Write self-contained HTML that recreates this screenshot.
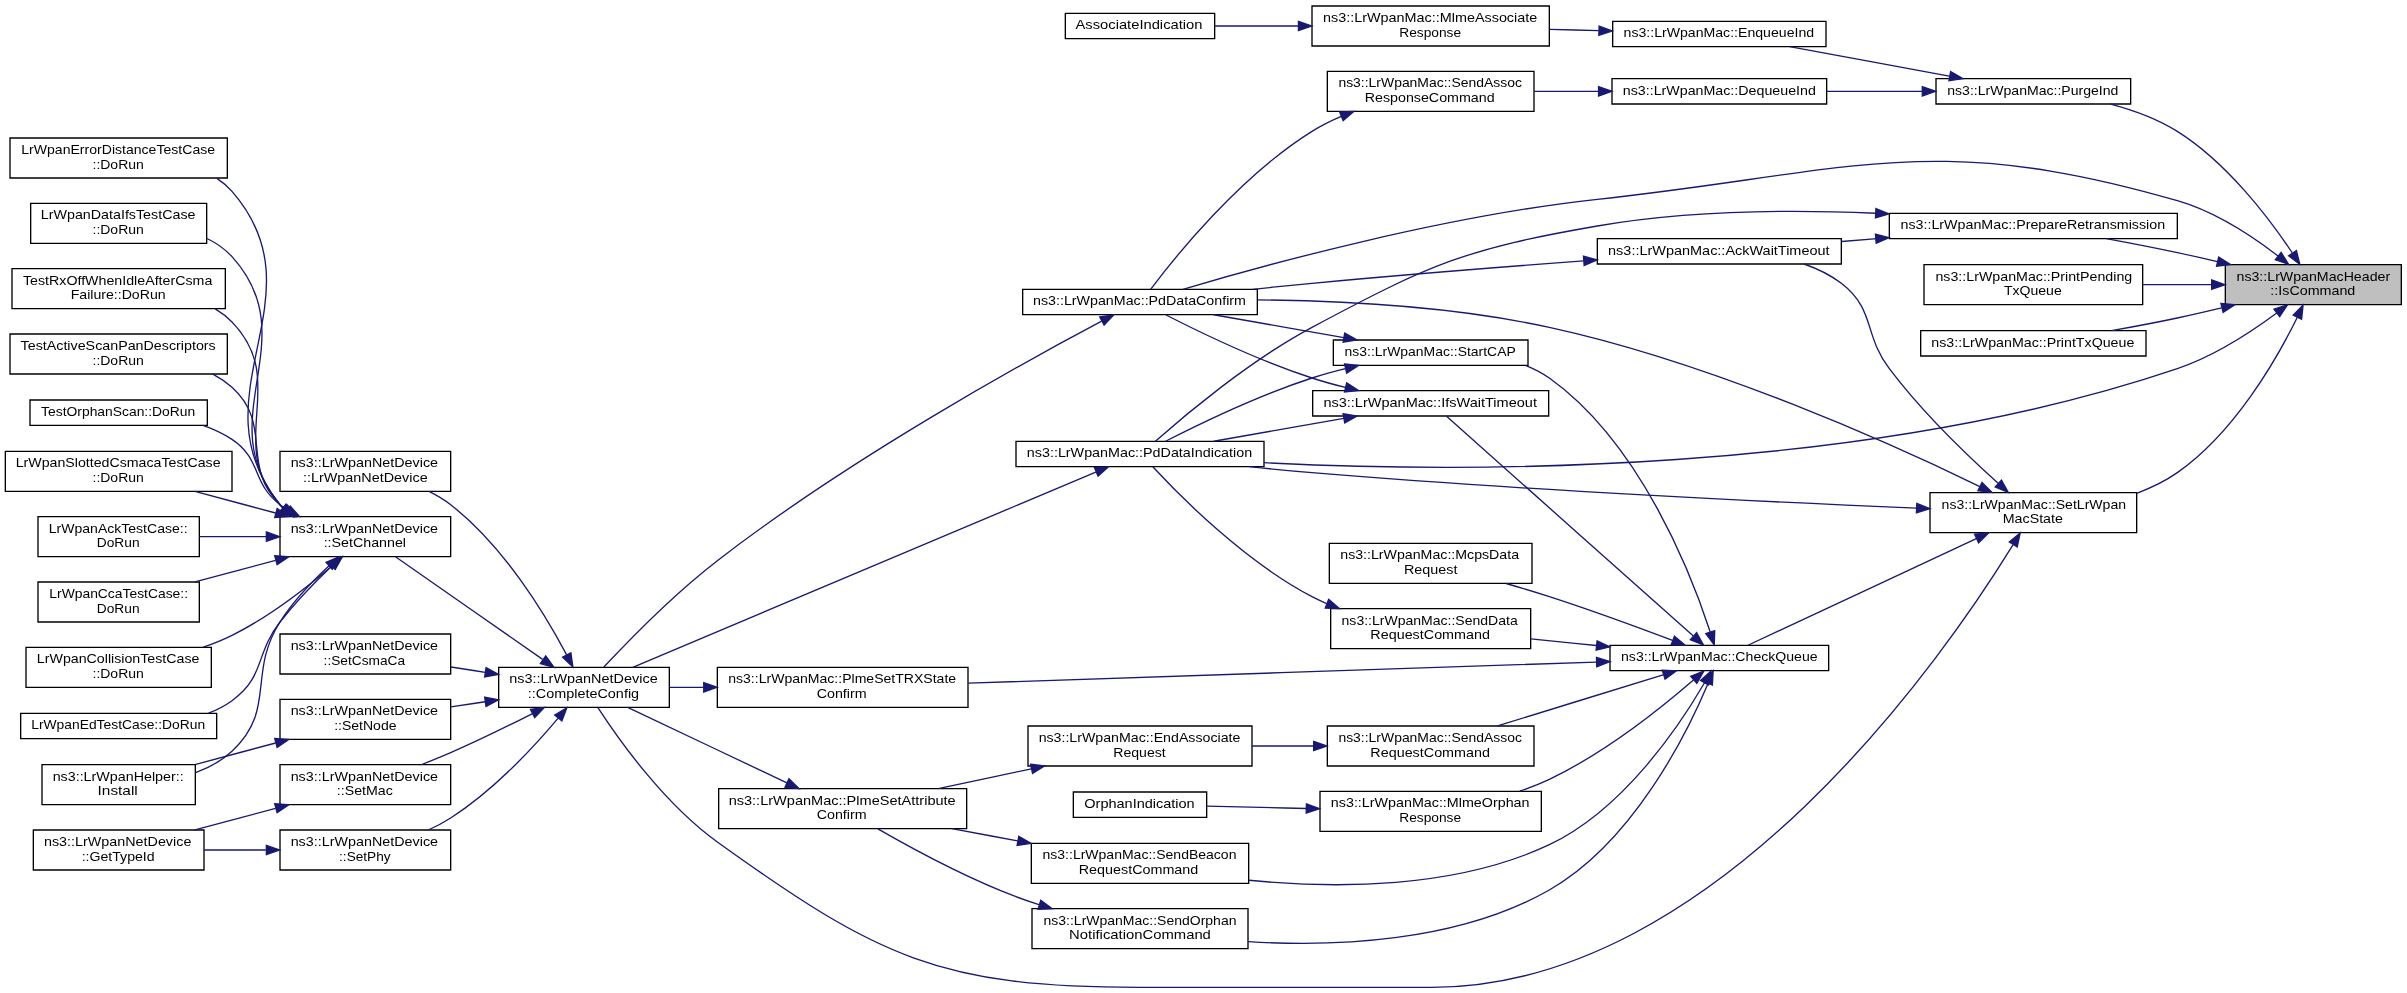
<!DOCTYPE html>
<html><head><meta charset="utf-8"><title>ns3::LrWpanMacHeader::IsCommand</title>
<style>
html,body{margin:0;padding:0;background:#fff;width:2407px;height:993px;overflow:hidden}
svg{display:block;will-change:transform}
text{font-family:"Liberation Sans",sans-serif;font-size:10.0px;fill:#000;}
</style></head><body>
<svg width="2407" height="993" viewBox="0 0 1805.25 744.75">
<g text-anchor="middle" transform="scale(1 1) rotate(0) translate(4 740.5)">
<polygon fill="white" stroke="none" points="-4,4 -4,-740.5 1801,-740.5 1801,4 -4,4"/>
<g>
<polygon fill="#bfbfbf" stroke="black" points="1665,-512 1665,-542 1797,-542 1797,-512 1665,-512"/>
<text x="1731.00" y="-530.00" textLength="115.21" lengthAdjust="spacingAndGlyphs">ns3::LrWpanMacHeader</text>
<text x="1730.62" y="-519.00" textLength="63.73" lengthAdjust="spacingAndGlyphs">::IsCommand</text>
</g>
<g>
<polygon fill="white" stroke="black" points="763,-504.5 763,-523.5 939,-523.5 939,-504.5 763,-504.5"/>
<text x="850.62" y="-511.50" textLength="159.66" lengthAdjust="spacingAndGlyphs">ns3::LrWpanMac::PdDataConfirm</text>
</g>
<g>
<path fill="none" stroke="midnightblue" d="M1704.52,-548.52C1685.18,-563.38 1657.19,-581.87 1629,-590 1443.24,-643.58 1386.21,-611.86 1194,-591 1077.53,-578.36 942.84,-541.19 883.19,-523.53"/>
<polygon fill="midnightblue" stroke="midnightblue" points="1706.83,-551.15 1712.51,-542.21 1702.49,-545.66 1706.83,-551.15"/>
</g>
<g>
<polygon fill="white" stroke="black" points="758,-390.5 758,-409.5 944,-409.5 944,-390.5 758,-390.5"/>
<text x="850.62" y="-397.50" textLength="168.95" lengthAdjust="spacingAndGlyphs">ns3::LrWpanMac::PdDataIndication</text>
</g>
<g>
<path fill="none" stroke="midnightblue" d="M1703.56,-505.71C1684.14,-491.31 1656.45,-473.3 1629,-464 1392.15,-383.8 1092.48,-386.03 944.02,-393.48"/>
<polygon fill="midnightblue" stroke="midnightblue" points="1701.53,-508.56 1711.62,-511.82 1705.77,-502.99 1701.53,-508.56"/>
</g>
<g>
<polygon fill="white" stroke="black" points="1413,-561.5 1413,-580.5 1629,-580.5 1629,-561.5 1413,-561.5"/>
<text x="1520.62" y="-568.50" textLength="198.48" lengthAdjust="spacingAndGlyphs">ns3::LrWpanMac::PrepareRetransmission</text>
</g>
<g>
<path fill="none" stroke="midnightblue" d="M1658.98,-544.33C1648.94,-546.65 1638.72,-548.94 1629,-551 1611.71,-554.67 1592.78,-558.32 1575.71,-561.49"/>
<polygon fill="midnightblue" stroke="midnightblue" points="1660.01,-547.69 1668.95,-542.01 1658.42,-540.87 1660.01,-547.69"/>
</g>
<g>
<polygon fill="white" stroke="black" points="1439,-512 1439,-542 1603,-542 1603,-512 1439,-512"/>
<text x="1521.38" y="-530.00" textLength="147.60" lengthAdjust="spacingAndGlyphs">ns3::LrWpanMac::PrintPending</text>
<text x="1520.62" y="-519.00" textLength="43.38" lengthAdjust="spacingAndGlyphs">TxQueue</text>
</g>
<g>
<path fill="none" stroke="midnightblue" d="M1654.51,-527C1637.81,-527 1620.04,-527 1603.12,-527"/>
<polygon fill="midnightblue" stroke="midnightblue" points="1654.76,-530.5 1664.76,-527 1654.76,-523.5 1654.76,-530.5"/>
</g>
<g>
<polygon fill="white" stroke="black" points="1436.5,-473.5 1436.5,-492.5 1605.5,-492.5 1605.5,-473.5 1436.5,-473.5"/>
<text x="1520.62" y="-480.50" textLength="152.26" lengthAdjust="spacingAndGlyphs">ns3::LrWpanMac::PrintTxQueue</text>
</g>
<g>
<path fill="none" stroke="midnightblue" d="M1662.16,-509.55C1651.11,-506.89 1639.76,-504.28 1629,-502 1613.04,-498.61 1595.64,-495.34 1579.61,-492.5"/>
<polygon fill="midnightblue" stroke="midnightblue" points="1661.66,-513.03 1672.2,-511.99 1663.31,-506.23 1661.66,-513.03"/>
</g>
<g>
<polygon fill="white" stroke="black" points="1448,-662.5 1448,-681.5 1594,-681.5 1594,-662.5 1448,-662.5"/>
<text x="1520.62" y="-669.50" textLength="128.32" lengthAdjust="spacingAndGlyphs">ns3::LrWpanMac::PurgeInd</text>
</g>
<g>
<path fill="none" stroke="midnightblue" d="M1715.29,-550.75C1697.86,-576.93 1666.42,-618.45 1629,-642 1613.98,-651.45 1595.93,-657.99 1578.98,-662.48"/>
<polygon fill="midnightblue" stroke="midnightblue" points="1718.34,-552.48 1720.86,-542.19 1712.47,-548.67 1718.34,-552.48"/>
</g>
<g>
<polygon fill="white" stroke="black" points="1443.5,-341 1443.5,-371 1598.5,-371 1598.5,-341 1443.5,-341"/>
<text x="1521.38" y="-359.00" textLength="138.34" lengthAdjust="spacingAndGlyphs">ns3::LrWpanMac::SetLrWpan</text>
<text x="1520.62" y="-348.00" textLength="45.14" lengthAdjust="spacingAndGlyphs">MacState</text>
</g>
<g>
<path fill="none" stroke="midnightblue" d="M1719,-502.62C1703.47,-470.97 1672.13,-416.23 1629,-386 1619.84,-379.58 1609.33,-374.53 1598.57,-370.55"/>
<polygon fill="midnightblue" stroke="midnightblue" points="1715.84,-504.13 1723.31,-511.64 1722.16,-501.11 1715.84,-504.13"/>
</g>
<g>
<polygon fill="white" stroke="black" points="370,-210 370,-240 498,-240 498,-210 370,-210"/>
<text x="433.62" y="-228.00" textLength="111.30" lengthAdjust="spacingAndGlyphs">ns3::LrWpanNetDevice</text>
<text x="433.62" y="-217.00" textLength="83.42" lengthAdjust="spacingAndGlyphs">::CompleteConfig</text>
</g>
<g>
<path fill="none" stroke="midnightblue" d="M822.24,-499.59C765.61,-469.64 633.69,-397 534,-320 501.2,-294.66 467.25,-259.88 448.87,-240.2"/>
<polygon fill="midnightblue" stroke="midnightblue" points="820.81,-502.79 831.29,-504.35 824.07,-496.6 820.81,-502.79"/>
</g>
<g>
<polygon fill="white" stroke="black" points="206,-372 206,-402 334,-402 334,-372 206,-372"/>
<text x="269.25" y="-390.00" textLength="110.55" lengthAdjust="spacingAndGlyphs">ns3::LrWpanNetDevice</text>
<text x="270.00" y="-379.00" textLength="93.53" lengthAdjust="spacingAndGlyphs">::LrWpanNetDevice</text>
</g>
<g>
<path fill="none" stroke="midnightblue" d="M420.98,-249.37C404.95,-279.6 373.91,-330.94 334,-362 329.08,-365.83 323.49,-369.15 317.73,-372"/>
<polygon fill="midnightblue" stroke="midnightblue" points="424.16,-250.84 425.65,-240.35 417.94,-247.63 424.16,-250.84"/>
</g>
<g>
<polygon fill="white" stroke="black" points="206,-323 206,-353 334,-353 334,-323 206,-323"/>
<text x="269.25" y="-341.00" textLength="110.55" lengthAdjust="spacingAndGlyphs">ns3::LrWpanNetDevice</text>
<text x="269.62" y="-330.00" textLength="61.75" lengthAdjust="spacingAndGlyphs">::SetChannel</text>
</g>
<g>
<path fill="none" stroke="midnightblue" d="M402.96,-245.95C370.92,-268.3 320.97,-303.15 292.6,-322.93"/>
<polygon fill="midnightblue" stroke="midnightblue" points="405.29,-248.6 411.49,-240.01 401.28,-242.86 405.29,-248.6"/>
</g>
<g>
<polygon fill="white" stroke="black" points="206,-235 206,-265 334,-265 334,-235 206,-235"/>
<text x="269.25" y="-253.00" textLength="110.55" lengthAdjust="spacingAndGlyphs">ns3::LrWpanNetDevice</text>
<text x="269.25" y="-242.00" textLength="61.11" lengthAdjust="spacingAndGlyphs">::SetCsmaCa</text>
</g>
<g>
<path fill="none" stroke="midnightblue" d="M359.91,-236.28C351.32,-237.6 342.62,-238.95 334.19,-240.25"/>
<polygon fill="midnightblue" stroke="midnightblue" points="360.55,-239.72 369.9,-234.74 359.49,-232.8 360.55,-239.72"/>
</g>
<g>
<polygon fill="white" stroke="black" points="206,-137 206,-167 334,-167 334,-137 206,-137"/>
<text x="269.25" y="-155.00" textLength="110.55" lengthAdjust="spacingAndGlyphs">ns3::LrWpanNetDevice</text>
<text x="269.62" y="-144.00" textLength="41.99" lengthAdjust="spacingAndGlyphs">::SetMac</text>
</g>
<g>
<path fill="none" stroke="midnightblue" d="M395.41,-205.34C377.08,-196.02 354.6,-185 334,-176 327.03,-172.95 319.54,-169.91 312.24,-167.06"/>
<polygon fill="midnightblue" stroke="midnightblue" points="393.82,-208.46 404.32,-209.9 397.01,-202.23 393.82,-208.46"/>
</g>
<g>
<polygon fill="white" stroke="black" points="206,-186 206,-216 334,-216 334,-186 206,-186"/>
<text x="269.25" y="-204.00" textLength="110.55" lengthAdjust="spacingAndGlyphs">ns3::LrWpanNetDevice</text>
<text x="270.00" y="-193.00" textLength="46.80" lengthAdjust="spacingAndGlyphs">::SetNode</text>
</g>
<g>
<path fill="none" stroke="midnightblue" d="M359.91,-214.17C351.32,-212.9 342.62,-211.61 334.19,-210.36"/>
<polygon fill="midnightblue" stroke="midnightblue" points="359.5,-217.65 369.9,-215.65 360.52,-210.72 359.5,-217.65"/>
</g>
<g>
<polygon fill="white" stroke="black" points="206,-88 206,-118 334,-118 334,-88 206,-88"/>
<text x="269.25" y="-106.00" textLength="110.55" lengthAdjust="spacingAndGlyphs">ns3::LrWpanNetDevice</text>
<text x="269.62" y="-95.00" textLength="38.62" lengthAdjust="spacingAndGlyphs">::SetPhy</text>
</g>
<g>
<path fill="none" stroke="midnightblue" d="M414.65,-201.94C396.24,-180.1 366.09,-147.67 334,-127 328.78,-123.64 323.03,-120.64 317.18,-118"/>
<polygon fill="midnightblue" stroke="midnightblue" points="412.04,-204.27 421.11,-209.74 417.43,-199.81 412.04,-204.27"/>
</g>
<g>
<polygon fill="white" stroke="black" points="24.5,-323 24.5,-353 145.5,-353 145.5,-323 24.5,-323"/>
<text x="84.62" y="-341.00" textLength="104.13" lengthAdjust="spacingAndGlyphs">LrWpanAckTestCase::</text>
<text x="84.62" y="-330.00" textLength="32.09" lengthAdjust="spacingAndGlyphs">DoRun</text>
</g>
<g>
<path fill="none" stroke="midnightblue" d="M195.55,-338C178.94,-338 161.5,-338 145.54,-338"/>
<polygon fill="midnightblue" stroke="midnightblue" points="195.77,-341.5 205.77,-338 195.77,-334.5 195.77,-341.5"/>
</g>
<g>
<polygon fill="white" stroke="black" points="24.5,-274 24.5,-304 145.5,-304 145.5,-274 24.5,-274"/>
<text x="85.00" y="-292.00" textLength="104.00" lengthAdjust="spacingAndGlyphs">LrWpanCcaTestCase::</text>
<text x="84.62" y="-281.00" textLength="32.09" lengthAdjust="spacingAndGlyphs">DoRun</text>
</g>
<g>
<path fill="none" stroke="midnightblue" d="M202.71,-320.25C182.88,-314.94 161.33,-309.17 142.21,-304.05"/>
<polygon fill="midnightblue" stroke="midnightblue" points="202.04,-323.69 212.6,-322.9 203.85,-316.93 202.04,-323.69"/>
</g>
<g>
<polygon fill="white" stroke="black" points="15.5,-225 15.5,-255 154.5,-255 154.5,-225 15.5,-225"/>
<text x="84.62" y="-243.00" textLength="121.96" lengthAdjust="spacingAndGlyphs">LrWpanCollisionTestCase</text>
<text x="84.62" y="-232.00" textLength="38.50" lengthAdjust="spacingAndGlyphs">::DoRun</text>
</g>
<g>
<path fill="none" stroke="midnightblue" d="M245.13,-316.2C226.03,-299.8 197.93,-277.84 170,-264 163.21,-260.63 155.86,-257.67 148.44,-255.07"/>
<polygon fill="midnightblue" stroke="midnightblue" points="242.9,-318.91 252.73,-322.86 247.51,-313.64 242.9,-318.91"/>
</g>
<g>
<polygon fill="white" stroke="black" points="11.5,-186.5 11.5,-205.5 158.5,-205.5 158.5,-186.5 11.5,-186.5"/>
<text x="84.62" y="-193.50" textLength="130.45" lengthAdjust="spacingAndGlyphs">LrWpanEdTestCase::DoRun</text>
</g>
<g>
<path fill="none" stroke="midnightblue" d="M244.83,-316C232.49,-304.17 217.68,-288.96 206,-274 187.1,-249.78 194.95,-232.92 170,-215 164.66,-211.16 158.67,-208.08 152.41,-205.62"/>
<polygon fill="midnightblue" stroke="midnightblue" points="242.46,-318.58 252.13,-322.9 247.26,-313.49 242.46,-318.58"/>
</g>
<g>
<polygon fill="white" stroke="black" points="3.5,-607 3.5,-637 166.5,-637 166.5,-607 3.5,-607"/>
<text x="84.62" y="-625.00" textLength="145.37" lengthAdjust="spacingAndGlyphs">LrWpanErrorDistanceTestCase</text>
<text x="84.62" y="-614.00" textLength="38.50" lengthAdjust="spacingAndGlyphs">::DoRun</text>
</g>
<g>
<path fill="none" stroke="midnightblue" d="M207.91,-359.8C207.25,-360.51 206.61,-361.24 206,-362 139.61,-444.2 239.42,-517.34 170,-597 166.7,-600.79 162.86,-604.01 158.66,-606.76"/>
<polygon fill="midnightblue" stroke="midnightblue" points="210.5,-362.2 215.83,-353.04 205.95,-356.87 210.5,-362.2"/>
</g>
<g>
<polygon fill="white" stroke="black" points="19,-558 19,-588 151,-588 151,-558 19,-558"/>
<text x="84.62" y="-576.00" textLength="115.95" lengthAdjust="spacingAndGlyphs">LrWpanDataIfsTestCase</text>
<text x="84.62" y="-565.00" textLength="38.50" lengthAdjust="spacingAndGlyphs">::DoRun</text>
</g>
<g>
<path fill="none" stroke="midnightblue" d="M208.24,-359.54C207.46,-360.33 206.72,-361.15 206,-362 151.82,-426.45 226.55,-485.61 170,-548 164.79,-553.75 158.32,-558.2 151.3,-561.64"/>
<polygon fill="midnightblue" stroke="midnightblue" points="210.49,-362.22 215.98,-353.16 206.03,-356.82 210.49,-362.22"/>
</g>
<g>
<polygon fill="white" stroke="black" points="5,-509 5,-539 165,-539 165,-509 5,-509"/>
<text x="84.25" y="-527.00" textLength="142.02" lengthAdjust="spacingAndGlyphs">TestRxOffWhenIdleAfterCsma</text>
<text x="84.62" y="-516.00" textLength="71.25" lengthAdjust="spacingAndGlyphs">Failure::DoRun</text>
</g>
<g>
<path fill="none" stroke="midnightblue" d="M208.38,-359.54C207.56,-360.33 206.76,-361.15 206,-362 163.93,-408.83 213.79,-453.77 170,-499 166.3,-502.83 162.03,-506.07 157.44,-508.83"/>
<polygon fill="midnightblue" stroke="midnightblue" points="210.8,-362.1 216.52,-353.18 206.48,-356.58 210.8,-362.1"/>
</g>
<g>
<polygon fill="white" stroke="black" points="3.5,-460 3.5,-490 166.5,-490 166.5,-460 3.5,-460"/>
<text x="84.62" y="-478.00" textLength="146.39" lengthAdjust="spacingAndGlyphs">TestActiveScanPanDescriptors</text>
<text x="84.62" y="-467.00" textLength="38.50" lengthAdjust="spacingAndGlyphs">::DoRun</text>
</g>
<g>
<path fill="none" stroke="midnightblue" d="M209.45,-358.92C208.25,-359.9 207.1,-360.93 206,-362 175.76,-391.51 201.32,-421.64 170,-450 165.71,-453.88 160.85,-457.16 155.67,-459.93"/>
<polygon fill="midnightblue" stroke="midnightblue" points="211.67,-361.64 217.91,-353.08 207.69,-355.88 211.67,-361.64"/>
</g>
<g>
<polygon fill="white" stroke="black" points="18.5,-421.5 18.5,-440.5 151.5,-440.5 151.5,-421.5 18.5,-421.5"/>
<text x="84.62" y="-428.50" textLength="115.58" lengthAdjust="spacingAndGlyphs">TestOrphanScan::DoRun</text>
</g>
<g>
<path fill="none" stroke="midnightblue" d="M211.69,-358.06C209.72,-359.31 207.82,-360.62 206,-362 184.5,-378.37 192.52,-396.07 170,-411 163.38,-415.39 155.9,-418.82 148.2,-421.5"/>
<polygon fill="midnightblue" stroke="midnightblue" points="213.65,-360.98 220.67,-353.05 210.23,-354.87 213.65,-360.98"/>
</g>
<g>
<polygon fill="white" stroke="black" points="0,-372 0,-402 170,-402 170,-372 0,-372"/>
<text x="84.62" y="-390.00" textLength="153.68" lengthAdjust="spacingAndGlyphs">LrWpanSlottedCsmacaTestCase</text>
<text x="84.62" y="-379.00" textLength="38.50" lengthAdjust="spacingAndGlyphs">::DoRun</text>
</g>
<g>
<path fill="none" stroke="midnightblue" d="M202.71,-355.75C182.88,-361.06 161.33,-366.83 142.21,-371.95"/>
<polygon fill="midnightblue" stroke="midnightblue" points="203.85,-359.07 212.6,-353.1 202.04,-352.31 203.85,-359.07"/>
</g>
<g>
<polygon fill="white" stroke="black" points="27.5,-137 27.5,-167 142.5,-167 142.5,-137 27.5,-137"/>
<text x="84.62" y="-155.00" textLength="98.27" lengthAdjust="spacingAndGlyphs">ns3::LrWpanHelper::</text>
<text x="84.25" y="-144.00" textLength="30.10" lengthAdjust="spacingAndGlyphs">Install</text>
</g>
<g>
<path fill="none" stroke="midnightblue" d="M242.82,-316.15C230.33,-304.65 215.98,-289.69 206,-274 181.32,-235.2 203.57,-208.42 170,-177 162.34,-169.83 152.7,-164.7 142.71,-161.05"/>
<polygon fill="midnightblue" stroke="midnightblue" points="240.51,-318.79 250.29,-322.85 245.18,-313.57 240.51,-318.79"/>
</g>
<g>
<polygon fill="white" stroke="black" points="21,-88 21,-118 149,-118 149,-88 21,-88"/>
<text x="84.25" y="-106.00" textLength="110.55" lengthAdjust="spacingAndGlyphs">ns3::LrWpanNetDevice</text>
<text x="84.62" y="-95.00" textLength="54.74" lengthAdjust="spacingAndGlyphs">::GetTypeId</text>
</g>
<g>
<path fill="none" stroke="midnightblue" d="M202.71,-134.25C182.88,-128.94 161.33,-123.17 142.21,-118.05"/>
<polygon fill="midnightblue" stroke="midnightblue" points="202.04,-137.69 212.6,-136.9 203.85,-130.93 202.04,-137.69"/>
</g>
<g>
<path fill="none" stroke="midnightblue" d="M202.71,-183.25C182.88,-177.94 161.33,-172.17 142.21,-167.05"/>
<polygon fill="midnightblue" stroke="midnightblue" points="202.04,-186.69 212.6,-185.9 203.85,-179.93 202.04,-186.69"/>
</g>
<g>
<path fill="none" stroke="midnightblue" d="M195.33,-103C180.05,-103 164.09,-103 149.24,-103"/>
<polygon fill="midnightblue" stroke="midnightblue" points="195.77,-106.5 205.77,-103 195.77,-99.5 195.77,-106.5"/>
</g>
<g>
<path fill="none" stroke="midnightblue" d="M817.84,-386.44C741.56,-354.27 550.17,-273.57 470.58,-240"/>
<polygon fill="midnightblue" stroke="midnightblue" points="816.82,-389.81 827.39,-390.47 819.54,-383.36 816.82,-389.81"/>
</g>
<g>
<path fill="none" stroke="midnightblue" d="M1402.5,-580.59C1340.12,-583.28 1262.42,-582.79 1194,-571 1094.53,-553.86 1069.06,-542.49 980,-495 932.63,-469.74 883.55,-428.21 862.55,-409.57"/>
<polygon fill="midnightblue" stroke="midnightblue" points="1402.95,-584.08 1412.77,-580.12 1402.62,-577.08 1402.95,-584.08"/>
</g>
<g>
<polygon fill="white" stroke="black" points="1194,-542.5 1194,-561.5 1377,-561.5 1377,-542.5 1194,-542.5"/>
<text x="1285.12" y="-549.50" textLength="166.11" lengthAdjust="spacingAndGlyphs">ns3::LrWpanMac::AckWaitTimeout</text>
</g>
<g>
<path fill="none" stroke="midnightblue" d="M1402.78,-561.46C1394.23,-560.77 1385.67,-560.07 1377.31,-559.39"/>
<polygon fill="midnightblue" stroke="midnightblue" points="1402.57,-564.96 1412.82,-562.28 1403.13,-557.98 1402.57,-564.96"/>
</g>
<g>
<path fill="none" stroke="midnightblue" d="M1183.71,-544.83C1124.37,-540.41 1047.88,-534.39 980,-528 965.64,-526.65 950.4,-525.09 935.62,-523.51"/>
<polygon fill="midnightblue" stroke="midnightblue" points="1183.6,-548.33 1193.84,-545.58 1184.12,-541.35 1183.6,-548.33"/>
</g>
<g>
<polygon fill="white" stroke="black" points="1205,-662.5 1205,-681.5 1366,-681.5 1366,-662.5 1205,-662.5"/>
<text x="1285.50" y="-669.50" textLength="144.80" lengthAdjust="spacingAndGlyphs">ns3::LrWpanMac::DequeueInd</text>
</g>
<g>
<path fill="none" stroke="midnightblue" d="M1437.56,-672C1414.37,-672 1389.19,-672 1366.16,-672"/>
<polygon fill="midnightblue" stroke="midnightblue" points="1437.72,-675.5 1447.72,-672 1437.72,-668.5 1437.72,-675.5"/>
</g>
<g>
<polygon fill="white" stroke="black" points="1205.5,-705.5 1205.5,-724.5 1365.5,-724.5 1365.5,-705.5 1205.5,-705.5"/>
<text x="1285.12" y="-712.50" textLength="142.91" lengthAdjust="spacingAndGlyphs">ns3::LrWpanMac::EnqueueInd</text>
</g>
<g>
<path fill="none" stroke="midnightblue" d="M1457.91,-683.43C1420.54,-690.32 1373.51,-698.98 1338.18,-705.48"/>
<polygon fill="midnightblue" stroke="midnightblue" points="1458.98,-686.8 1468.18,-681.54 1457.71,-679.91 1458.98,-686.8"/>
</g>
<g>
<polygon fill="white" stroke="black" points="991.5,-657 991.5,-687 1146.5,-687 1146.5,-657 991.5,-657"/>
<text x="1068.62" y="-675.00" textLength="137.63" lengthAdjust="spacingAndGlyphs">ns3::LrWpanMac::SendAssoc</text>
<text x="1068.25" y="-664.00" textLength="97.45" lengthAdjust="spacingAndGlyphs">ResponseCommand</text>
</g>
<g>
<path fill="none" stroke="midnightblue" d="M1194.54,-672C1178.6,-672 1162.12,-672 1146.59,-672"/>
<polygon fill="midnightblue" stroke="midnightblue" points="1194.93,-675.5 1204.93,-672 1194.93,-668.5 1194.93,-675.5"/>
</g>
<g>
<path fill="none" stroke="midnightblue" d="M1001.96,-653.23C994.31,-649.98 986.82,-646.25 980,-642 925.58,-608.11 876.61,-546.95 858.96,-523.5"/>
<polygon fill="midnightblue" stroke="midnightblue" points="1000.74,-656.51 1011.33,-656.96 1003.34,-650.01 1000.74,-656.51"/>
</g>
<g>
<polygon fill="white" stroke="black" points="980,-706 980,-736 1158,-736 1158,-706 980,-706"/>
<text x="1068.62" y="-724.00" textLength="160.67" lengthAdjust="spacingAndGlyphs">ns3::LrWpanMac::MlmeAssociate</text>
<text x="1068.62" y="-713.00" textLength="46.38" lengthAdjust="spacingAndGlyphs">Response</text>
</g>
<g>
<path fill="none" stroke="midnightblue" d="M1195.11,-717.5C1182.95,-717.84 1170.47,-718.19 1158.33,-718.53"/>
<polygon fill="midnightblue" stroke="midnightblue" points="1195.34,-721 1205.24,-717.22 1195.14,-714 1195.34,-721"/>
</g>
<g>
<polygon fill="white" stroke="black" points="795,-711.5 795,-730.5 907,-730.5 907,-711.5 795,-711.5"/>
<text x="850.25" y="-718.50" textLength="95.20" lengthAdjust="spacingAndGlyphs">AssociateIndication</text>
</g>
<g>
<path fill="none" stroke="midnightblue" d="M969.67,-721C948.17,-721 926.16,-721 907.08,-721"/>
<polygon fill="midnightblue" stroke="midnightblue" points="969.83,-724.5 979.83,-721 969.83,-717.5 969.83,-724.5"/>
</g>
<g>
<path fill="none" stroke="midnightblue" d="M1480.9,-375.59C1415.8,-407.15 1280.26,-468.39 1158,-495 1085.32,-510.82 1000.8,-515.03 939.03,-515.59"/>
<polygon fill="midnightblue" stroke="midnightblue" points="1482.53,-378.69 1489.98,-371.16 1479.46,-372.4 1482.53,-378.69"/>
</g>
<g>
<path fill="none" stroke="midnightblue" d="M1505.72,-331.81C1456.4,-251.68 1284.42,0 1070,0 1070,0 1070,0 850,0 701.44,0 654.64,-22.3 534,-109 494.23,-137.59 460.24,-185.44 444.44,-209.78"/>
<polygon fill="midnightblue" stroke="midnightblue" points="1502.94,-333.97 1511.12,-340.7 1508.92,-330.34 1502.94,-333.97"/>
</g>
<g>
<path fill="none" stroke="midnightblue" d="M1433.38,-359.38C1326.64,-363.88 1139.78,-372.83 980,-386 964.74,-387.26 948.48,-388.84 932.85,-390.49"/>
<polygon fill="midnightblue" stroke="midnightblue" points="1433.61,-362.88 1443.45,-358.96 1433.32,-355.88 1433.61,-362.88"/>
</g>
<g>
<path fill="none" stroke="midnightblue" d="M1494.58,-378.02C1471.57,-398.75 1437.61,-431.4 1413,-464 1393.34,-490.05 1402.81,-508.02 1377,-528 1368.77,-534.37 1359,-539.05 1348.98,-542.5"/>
<polygon fill="midnightblue" stroke="midnightblue" points="1497.09,-380.47 1502.23,-371.2 1492.43,-375.24 1497.09,-380.47"/>
</g>
<g>
<polygon fill="white" stroke="black" points="1203.5,-237.5 1203.5,-256.5 1367.5,-256.5 1367.5,-237.5 1203.5,-237.5"/>
<text x="1285.50" y="-244.50" textLength="147.46" lengthAdjust="spacingAndGlyphs">ns3::LrWpanMac::CheckQueue</text>
</g>
<g>
<path fill="none" stroke="midnightblue" d="M1478.21,-336.49C1427.82,-312.97 1345.14,-274.37 1306.98,-256.56"/>
<polygon fill="midnightblue" stroke="midnightblue" points="1476.99,-339.79 1487.53,-340.84 1479.95,-333.44 1476.99,-339.79"/>
</g>
<g>
<polygon fill="white" stroke="black" points="980.5,-428.5 980.5,-447.5 1157.5,-447.5 1157.5,-428.5 980.5,-428.5"/>
<text x="1068.62" y="-435.50" textLength="160.15" lengthAdjust="spacingAndGlyphs">ns3::LrWpanMac::IfsWaitTimeout</text>
</g>
<g>
<path fill="none" stroke="midnightblue" d="M1266.02,-263.46C1222.65,-302.07 1115.45,-397.53 1080.91,-428.29"/>
<polygon fill="midnightblue" stroke="midnightblue" points="1268.43,-266 1273.57,-256.73 1263.77,-260.77 1268.43,-266"/>
</g>
<g>
<polygon fill="white" stroke="black" points="993,-303 993,-333 1145,-333 1145,-303 993,-303"/>
<text x="1068.25" y="-321.00" textLength="134.11" lengthAdjust="spacingAndGlyphs">ns3::LrWpanMac::McpsData</text>
<text x="1069.00" y="-310.00" textLength="40.09" lengthAdjust="spacingAndGlyphs">Request</text>
</g>
<g>
<path fill="none" stroke="midnightblue" d="M1250.44,-260.14C1225.11,-269.73 1189.6,-282.78 1158,-293 1147.57,-296.37 1136.37,-299.74 1125.58,-302.87"/>
<polygon fill="midnightblue" stroke="midnightblue" points="1251.86,-263.35 1259.96,-256.52 1249.37,-256.8 1251.86,-263.35"/>
</g>
<g>
<polygon fill="white" stroke="black" points="986,-117 986,-147 1152,-147 1152,-117 986,-117"/>
<text x="1068.62" y="-135.00" textLength="148.99" lengthAdjust="spacingAndGlyphs">ns3::LrWpanMac::MlmeOrphan</text>
<text x="1068.62" y="-124.00" textLength="46.38" lengthAdjust="spacingAndGlyphs">Response</text>
</g>
<g>
<path fill="none" stroke="midnightblue" d="M1266.1,-230.47C1242.61,-210.18 1199.98,-176.01 1158,-156 1151,-152.66 1143.45,-149.72 1135.82,-147.15"/>
<polygon fill="midnightblue" stroke="midnightblue" points="1264.02,-233.3 1273.85,-237.26 1268.64,-228.04 1264.02,-233.3"/>
</g>
<g>
<polygon fill="white" stroke="black" points="534,-210 534,-240 722,-240 722,-210 534,-210"/>
<text x="627.62" y="-228.00" textLength="170.90" lengthAdjust="spacingAndGlyphs">ns3::LrWpanMac::PlmeSetTRXState</text>
<text x="627.25" y="-217.00" textLength="37.44" lengthAdjust="spacingAndGlyphs">Confirm</text>
</g>
<g>
<path fill="none" stroke="midnightblue" d="M1193.22,-243.94C1068.92,-239.76 847.58,-232.34 722.26,-228.13"/>
<polygon fill="midnightblue" stroke="midnightblue" points="1193.35,-247.44 1203.47,-244.28 1193.59,-240.45 1193.35,-247.44"/>
</g>
<g>
<polygon fill="white" stroke="black" points="991.5,-166 991.5,-196 1146.5,-196 1146.5,-166 991.5,-166"/>
<text x="1068.62" y="-184.00" textLength="137.63" lengthAdjust="spacingAndGlyphs">ns3::LrWpanMac::SendAssoc</text>
<text x="1068.62" y="-173.00" textLength="89.67" lengthAdjust="spacingAndGlyphs">RequestCommand</text>
</g>
<g>
<path fill="none" stroke="midnightblue" d="M1243.3,-234.32C1207.86,-223.42 1156.66,-207.66 1119.1,-196.11"/>
<polygon fill="midnightblue" stroke="midnightblue" points="1242.72,-237.81 1253.31,-237.4 1244.78,-231.12 1242.72,-237.81"/>
</g>
<g>
<polygon fill="white" stroke="black" points="769.5,-78 769.5,-108 932.5,-108 932.5,-78 769.5,-78"/>
<text x="850.62" y="-96.00" textLength="145.44" lengthAdjust="spacingAndGlyphs">ns3::LrWpanMac::SendBeacon</text>
<text x="849.88" y="-85.00" textLength="89.67" lengthAdjust="spacingAndGlyphs">RequestCommand</text>
</g>
<g>
<path fill="none" stroke="midnightblue" d="M1274.4,-228.43C1256.03,-196.8 1213.84,-133.35 1158,-107 1087.3,-73.64 996.9,-73.98 932.73,-80.31"/>
<polygon fill="midnightblue" stroke="midnightblue" points="1271.36,-230.16 1279.33,-237.15 1277.45,-226.72 1271.36,-230.16"/>
</g>
<g>
<polygon fill="white" stroke="black" points="994,-254 994,-284 1144,-284 1144,-254 994,-254"/>
<text x="1068.25" y="-272.00" textLength="132.13" lengthAdjust="spacingAndGlyphs">ns3::LrWpanMac::SendData</text>
<text x="1068.62" y="-261.00" textLength="89.67" lengthAdjust="spacingAndGlyphs">RequestCommand</text>
</g>
<g>
<path fill="none" stroke="midnightblue" d="M1193.28,-256.36C1176.89,-258.04 1159.98,-259.77 1144.15,-261.4"/>
<polygon fill="midnightblue" stroke="midnightblue" points="1193.82,-259.82 1203.41,-255.32 1193.1,-252.86 1193.82,-259.82"/>
</g>
<g>
<polygon fill="white" stroke="black" points="770,-29 770,-59 932,-59 932,-29 770,-29"/>
<text x="851.00" y="-47.00" textLength="144.73" lengthAdjust="spacingAndGlyphs">ns3::LrWpanMac::SendOrphan</text>
<text x="851.00" y="-36.00" textLength="106.34" lengthAdjust="spacingAndGlyphs">NotificationCommand</text>
</g>
<g>
<path fill="none" stroke="midnightblue" d="M1276.88,-227.56C1261.08,-190.2 1220.89,-108.87 1158,-73 1089.16,-33.74 997.22,-30.27 932.14,-34.28"/>
<polygon fill="midnightblue" stroke="midnightblue" points="1273.82,-229.33 1280.84,-237.26 1280.29,-226.68 1273.82,-229.33"/>
</g>
<g>
<polygon fill="white" stroke="black" points="996,-466.5 996,-485.5 1142,-485.5 1142,-466.5 996,-466.5"/>
<text x="1068.62" y="-473.50" textLength="128.34" lengthAdjust="spacingAndGlyphs">ns3::LrWpanMac::StartCAP</text>
</g>
<g>
<path fill="none" stroke="midnightblue" d="M1278.67,-266.46C1265.01,-308.47 1226.8,-407.82 1158,-457 1152.66,-460.82 1146.7,-463.89 1140.48,-466.37"/>
<polygon fill="midnightblue" stroke="midnightblue" points="1282.02,-267.45 1281.68,-256.86 1275.34,-265.36 1282.02,-267.45"/>
</g>
<g>
<path fill="none" stroke="midnightblue" d="M1005.04,-449.94C996.55,-452.03 988.01,-454.38 980,-457 939.53,-470.22 894.58,-492 870.18,-504.46"/>
<polygon fill="midnightblue" stroke="midnightblue" points="1006.01,-453.3 1014.94,-447.6 1004.41,-446.49 1006.01,-453.3"/>
</g>
<g>
<path fill="none" stroke="midnightblue" d="M1003.91,-426.72C972.83,-421.26 935.91,-414.76 906.25,-409.54"/>
<polygon fill="midnightblue" stroke="midnightblue" points="1003.32,-430.17 1013.77,-428.46 1004.53,-423.28 1003.32,-430.17"/>
</g>
<g>
<polygon fill="white" stroke="black" points="801,-127.5 801,-146.5 901,-146.5 901,-127.5 801,-127.5"/>
<text x="850.62" y="-134.50" textLength="82.76" lengthAdjust="spacingAndGlyphs">OrphanIndication</text>
</g>
<g>
<path fill="none" stroke="midnightblue" d="M975.62,-134.14C950.04,-134.73 923.27,-135.35 901.21,-135.86"/>
<polygon fill="midnightblue" stroke="midnightblue" points="975.81,-137.64 985.72,-133.9 975.65,-130.64 975.81,-137.64"/>
</g>
<g>
<path fill="none" stroke="midnightblue" d="M523.58,-225C514.88,-225 506.26,-225 498.01,-225"/>
<polygon fill="midnightblue" stroke="midnightblue" points="523.81,-228.5 533.81,-225 523.81,-221.5 523.81,-228.5"/>
</g>
<g>
<polygon fill="white" stroke="black" points="767,-166 767,-196 935,-196 935,-166 767,-166"/>
<text x="850.62" y="-184.00" textLength="151.29" lengthAdjust="spacingAndGlyphs">ns3::LrWpanMac::EndAssociate</text>
<text x="850.62" y="-173.00" textLength="39.34" lengthAdjust="spacingAndGlyphs">Request</text>
</g>
<g>
<path fill="none" stroke="midnightblue" d="M980.89,-181C965.78,-181 950.11,-181 935.11,-181"/>
<polygon fill="midnightblue" stroke="midnightblue" points="981.24,-184.5 991.24,-181 981.24,-177.5 981.24,-184.5"/>
</g>
<g>
<polygon fill="white" stroke="black" points="535,-119 535,-149 721,-149 721,-119 535,-119"/>
<text x="627.62" y="-137.00" textLength="170.29" lengthAdjust="spacingAndGlyphs">ns3::LrWpanMac::PlmeSetAttribute</text>
<text x="627.25" y="-126.00" textLength="37.44" lengthAdjust="spacingAndGlyphs">Confirm</text>
</g>
<g>
<path fill="none" stroke="midnightblue" d="M769.45,-163.87C746.58,-159.01 721.86,-153.75 699.62,-149.02"/>
<polygon fill="midnightblue" stroke="midnightblue" points="768.96,-167.34 779.47,-166 770.41,-160.5 768.96,-167.34"/>
</g>
<g>
<path fill="none" stroke="midnightblue" d="M586.12,-153.37C550.45,-170.28 499.43,-194.46 466.75,-209.95"/>
<polygon fill="midnightblue" stroke="midnightblue" points="587.76,-156.47 595.3,-149.03 584.76,-150.15 587.76,-156.47"/>
</g>
<g>
<path fill="none" stroke="midnightblue" d="M759.19,-109.85C742.85,-112.88 725.91,-116.02 709.88,-119"/>
<polygon fill="midnightblue" stroke="midnightblue" points="760.08,-113.24 769.28,-107.98 758.81,-106.36 760.08,-113.24"/>
</g>
<g>
<path fill="none" stroke="midnightblue" d="M991,-287.85C987.22,-289.44 983.53,-291.16 980,-293 928.91,-319.68 879.9,-369.54 860.61,-390.42"/>
<polygon fill="midnightblue" stroke="midnightblue" points="992.48,-291.03 1000.54,-284.15 989.95,-284.5 992.48,-291.03"/>
</g>
<g>
<path fill="none" stroke="midnightblue" d="M775.19,-62.04C769.32,-63.9 763.53,-65.89 758,-68 720.62,-82.24 679.91,-104.25 654.43,-118.89"/>
<polygon fill="midnightblue" stroke="midnightblue" points="776.55,-65.29 785.1,-59.03 774.51,-58.59 776.55,-65.29"/>
</g>
<g>
<path fill="none" stroke="midnightblue" d="M1003.91,-487.28C972.83,-492.74 935.91,-499.24 906.25,-504.46"/>
<polygon fill="midnightblue" stroke="midnightblue" points="1004.53,-490.72 1013.77,-485.54 1003.32,-483.83 1004.53,-490.72"/>
</g>
<g>
<path fill="none" stroke="midnightblue" d="M1005.04,-464.06C996.55,-461.97 988.01,-459.62 980,-457 939.53,-443.78 894.58,-422 870.18,-409.54"/>
<polygon fill="midnightblue" stroke="midnightblue" points="1004.41,-467.51 1014.94,-466.4 1006.01,-460.7 1004.41,-467.51"/>
</g>
</g>
</svg>
</body></html>
